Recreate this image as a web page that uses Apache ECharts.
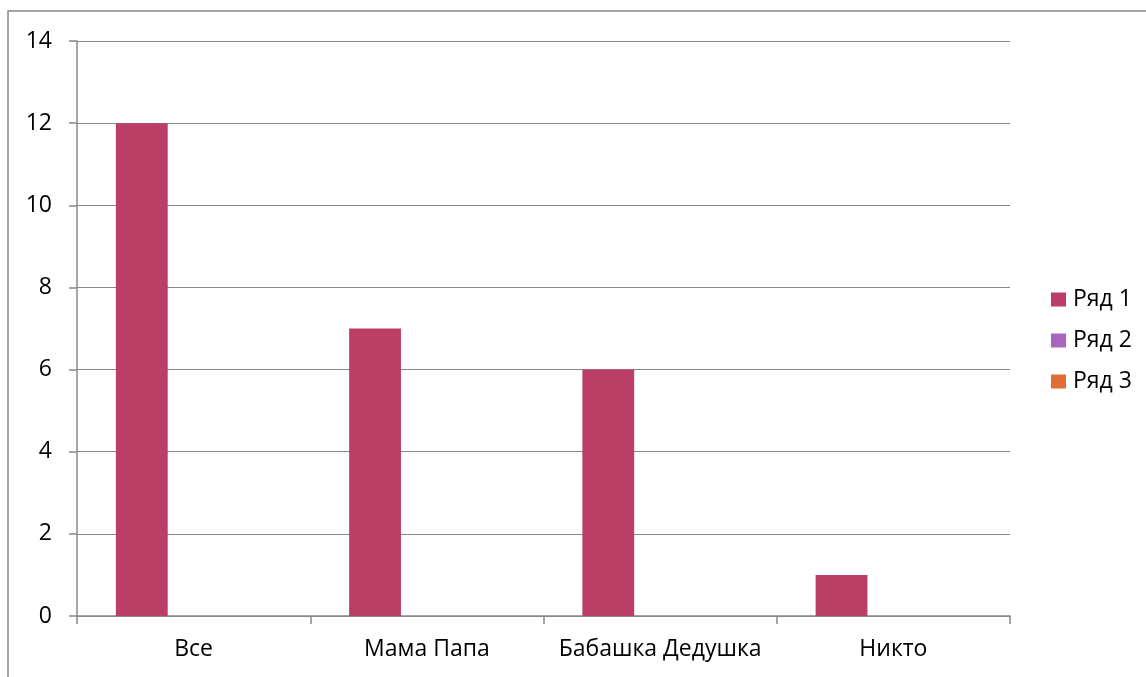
<!DOCTYPE html>
<html><head><meta charset="utf-8">
<script src="https://cdn.jsdelivr.net/npm/echarts@6/dist/echarts.min.js"></script>
<style>html,body{margin:0;padding:0;background:#fff}#c{width:1146px;height:677px}</style>
</head><body><div id="c"></div>
<script>
const categories = ['Все', 'Мама Папа', 'Бабашка Дедушка', 'Никто'];
const seriesNames = ['Ряд 1', 'Ряд 2', 'Ряд 3'];
const row1 = [12, 7, 6, 1];
const row2 = [null, null, null, null];
const row3 = [null, null, null, null];
const colors = ['#BB3E67', '#A865BF', '#E06C36'];
const FONT = '"Open Sans", sans-serif';
const FS = 23;
const chart = echarts.init(document.getElementById('c'));
const mk = (name, data, color) => ({
  name, type: 'bar', data, itemStyle: { color }, barGap: '0%', barCategoryGap: '33.33%'
});
chart.setOption({
  animation: false,
  textStyle: { fontFamily: FONT },
  graphic: [{ type: 'rect', shape: { x: 8, y: 11, width: 1300, height: 800 },
    style: { fill: 'none', stroke: '#888', lineWidth: 1.5 }, z: -1 }],
  grid: { left: 77, right: 136, top: 41, bottom: 61 },
  legend: {
    orient: 'vertical', left: 1051, top: 288, padding: 0, itemWidth: 15, itemHeight: 14, itemGap: 18,
    icon: 'rect', textStyle: { fontSize: FS, lineHeight: 23, color: '#000', fontFamily: FONT, padding: [0, 0, 0, 2] },
    data: seriesNames
  },
  xAxis: {
    type: 'category', data: categories,
    axisLine: { lineStyle: { color: '#888', width: 1.5 } },
    axisTick: { show: true, length: 8, lineStyle: { color: '#888', width: 1.5 } },
    axisLabel: { fontSize: FS, color: '#000', margin: 22, fontFamily: FONT, interval: 0, hideOverlap: false }
  },
  yAxis: {
    type: 'value', min: 0, max: 14, interval: 2,
    axisLine: { show: true, lineStyle: { color: '#888', width: 1.5 } },
    axisTick: { show: true, length: 8, lineStyle: { color: '#888', width: 1.5 } },
    splitLine: { lineStyle: { color: '#888', width: 1.2 } },
    axisLabel: { fontSize: FS, color: '#000', margin: 25, fontFamily: FONT }
  },
  series: [mk(seriesNames[0], row1, colors[0]), mk(seriesNames[1], row2, colors[1]), mk(seriesNames[2], row3, colors[2])]
});
</script></body></html>
